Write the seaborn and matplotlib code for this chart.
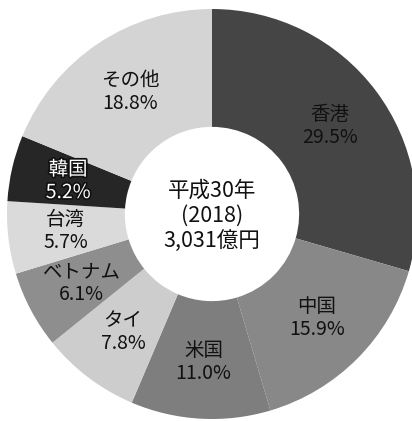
import numpy as np
import matplotlib
matplotlib.use("Agg")
import matplotlib.pyplot as plt
import matplotlib.patheffects as pe
import seaborn as sns

# Export destinations, share of total (%)
countries = ["香港", "中国", "米国", "タイ", "ベトナム", "台湾", "韓国", "その他"]
shares = [29.5, 15.9, 11.0, 7.8, 6.1, 5.7, 5.2, 18.8]
shades = ["#454545", "#888888", "#7e7e7e", "#cdcdcd", "#8e8e8e", "#dadada", "#262626", "#d4d4d4"]
text_colors = ["#111111", "#111111", "#111111", "#111111", "#111111", "#111111", "#ffffff", "#111111"]
center_lines = ["平成30年", "(2018)", "3,031億円"]

sns.set_theme(style="white")
plt.rcParams["font.family"] = ["Noto Sans CJK JP", "DejaVu Sans"]

W, H = 412, 421
fig = plt.figure(figsize=(W / 100, H / 100), dpi=100)
fig.patch.set_facecolor("white")
cx, cy, R = 212, 214, 205
ax = fig.add_axes([(cx - R) / W, (H - cy - R) / H, 2 * R / W, 2 * R / H])

wedges, _ = ax.pie(
    shares,
    colors=shades,
    startangle=90,
    counterclock=False,
    radius=1.0,
    wedgeprops=dict(width=0.575, edgecolor="none"),
)

# Labels at the middle of each ring segment
total = sum(shares)
cum = 0.0
for name, val, tc in zip(countries, shares, text_colors):
    mid = (cum + val / 2) / total * 2 * np.pi
    cum += val
    r = 0.72
    x, y = r * np.sin(mid), r * np.cos(mid)
    effects = [pe.withStroke(linewidth=2.5, foreground="#111111")] if tc == "#ffffff" else []
    ax.text(x, y + 0.055, name, ha="center", va="center", fontsize=14, color=tc,
            path_effects=effects)
    ax.text(x, y - 0.057, f"{val:.1f}%", ha="center", va="center", fontsize=14, color=tc,
            path_effects=effects)

ax.text(0, -0.01, "\n".join(center_lines), ha="center", va="center", fontsize=15.5,
        linespacing=1.2, color="#111111")

ax.set_xlim(-1, 1)
ax.set_ylim(-1, 1)
ax.set_aspect("auto")
ax.axis("off")

fig.savefig("out.png", dpi=100, facecolor="white")
